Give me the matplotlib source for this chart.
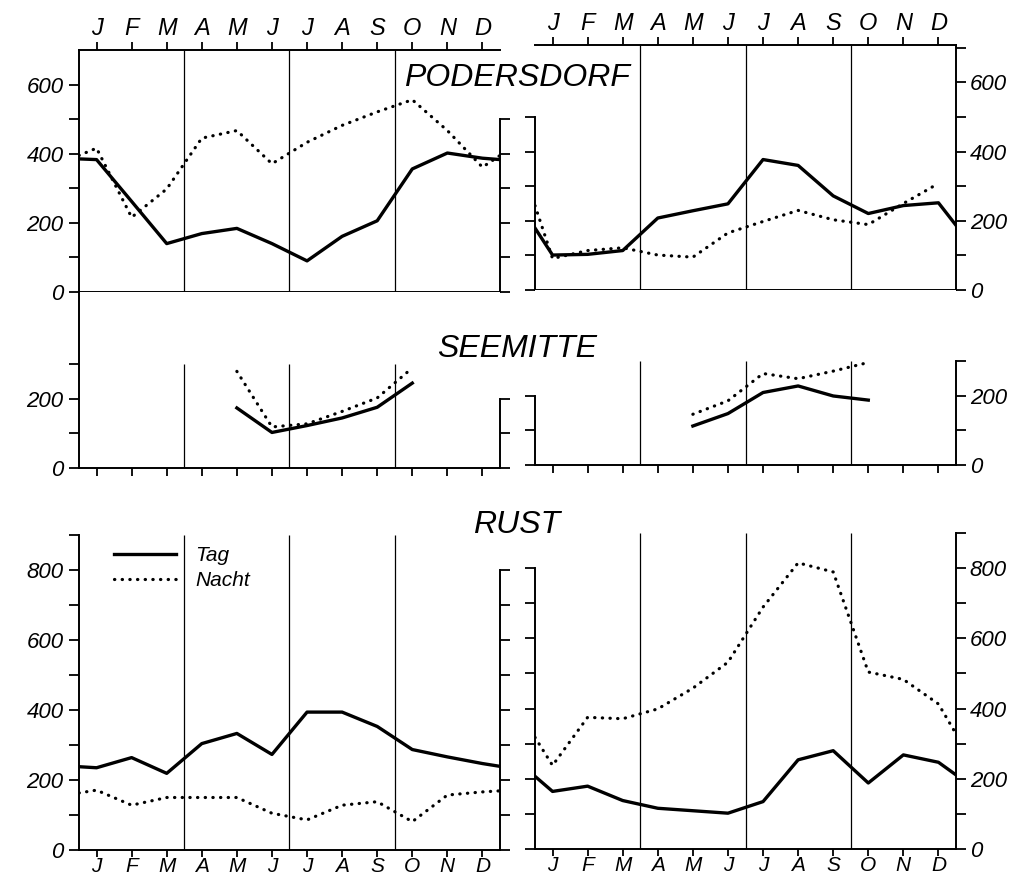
import numpy as np
import matplotlib.pyplot as plt

plt.rcParams['font.family'] = ['Liberation Sans', 'DejaVu Sans']
plt.rcParams['font.style'] = 'italic'

months = ['J', 'F', 'M', 'A', 'M', 'J', 'J', 'A', 'S', 'O', 'N', 'D']
# left border, Jan..Dec, right border
xpos = [0.5, 1, 2, 3, 4, 5, 6, 7, 8, 9, 10, 11, 12, 12.5]
nan = np.nan

# PODERSDORF
pod_tag_1 = [385, 383, 262, 140, 169, 184, 140, 90, 161, 206, 356, 402, 387, 383]
pod_nacht_1 = [395, 416, 216, 298, 445, 467, 371, 433, 482, 521, 556, 467, 361, 395]
pod_tag_2 = [179, 101, 103, 114, 208, 229, 249, 377, 360, 272, 221, 244, 252, 187]
pod_nacht_2 = [244, 91, 114, 122, 101, 95, 165, 198, 230, 203, 189, 250, 308, nan]

# SEEMITTE
see_tag_1 = [nan, nan, nan, nan, nan, 174, 103, 123, 145, 176, 246, nan, nan, nan]
see_nacht_1 = [nan, nan, nan, nan, nan, 280, 119, 128, 164, 203, 290, nan, nan, nan]
see_tag_2 = [nan, nan, nan, nan, nan, 113, 149, 210, 229, 200, 188, nan, nan, nan]
see_nacht_2 = [nan, nan, nan, nan, nan, 147, 186, 265, 250, 272, 297, nan, nan, nan]

# RUST
rust_tag_1 = [238, 235, 264, 219, 304, 333, 273, 394, 394, 353, 287, 266, 247, 239]
rust_nacht_1 = [163, 171, 128, 150, 150, 150, 105, 86, 128, 138, 81, 157, 166, 169]
rust_tag_2 = [207, 164, 179, 138, 116, 109, 102, 135, 254, 280, 188, 268, 247, 211]
rust_nacht_2 = [318, 238, 375, 371, 399, 458, 532, 689, 815, 789, 504, 483, 413, 328]

W, H = 1024, 884
fig = plt.figure(figsize=(W / 100, H / 100), dpi=100)
fig.patch.set_facecolor('white')

FS = 16


def rect(x0, x1, ytop, ybot):
    return [x0 / W, 1 - ybot / H, (x1 - x0) / W, (ybot - ytop) / H]


def panel(r, ymax, lb, rb, lticks, lshow, rticks, rshow, vtop, row):
    ax = fig.add_axes(r)
    ax.set_xlim(0.5, 12.5)
    ax.set_ylim(0, ymax)
    for s in ax.spines.values():
        s.set_linewidth(1.4)
    ax.spines['left'].set_bounds(0, lb)
    ax.spines['right'].set_visible(False)
    ax.spines['top'].set_visible(row == 'top')
    ax.set_xticks(range(1, 13), months)
    if row == 'bottom':
        ax.tick_params(axis='x', direction='out', length=5, width=1.3,
                       labelsize=FS - 1, pad=0)
    else:
        ax.tick_params(axis='x', direction='out', length=6, width=1.3,
                       top=(row == 'top'), labeltop=(row == 'top'),
                       labelbottom=False, labelsize=FS + 1, pad=1)
    ax.set_yticks(lticks, [str(t) if t in lshow else '' for t in lticks])
    ax.tick_params(axis='y', direction='out', length=7, width=1.3,
                   labelsize=FS, pad=4)
    tw = ax.twinx()
    tw.set_ylim(0, ymax)
    for k in ['left', 'top', 'bottom']:
        tw.spines[k].set_visible(False)
    tw.spines['right'].set_linewidth(1.4)
    tw.spines['right'].set_bounds(0, rb)
    tw.set_yticks(rticks, [str(t) if t in rshow else '' for t in rticks])
    tw.tick_params(axis='y', direction='out', length=7, width=1.3,
                   labelsize=FS, pad=3)
    ax.vlines([3.5, 6.5, 9.5], 0, vtop, color='k', lw=0.9)
    return ax


def draw(ax, tag, nacht):
    l1, = ax.plot(xpos, tag, color='k', lw=2.4, solid_joinstyle='round',
                  label='Tag')
    l2, = ax.plot(xpos, nacht, color='k', lw=2.3, linestyle=(0, (0.1, 2.3)),
                  dash_capstyle='round', label='Nacht')
    return l1, l2


# top row
a = panel(rect(79, 500, 50, 292), 700, 700, 500,
          [0, 100, 200, 300, 400, 500, 600], [0, 200, 400, 600],
          [0, 100, 200, 300, 400, 500], [], 700, 'top')
draw(a, pod_tag_1, pod_nacht_1)
a = panel(rect(535, 956, 45, 290), 708, 500, 708,
          [0, 100, 200, 300, 400, 500], [],
          [0, 100, 200, 300, 400, 500, 600, 700], [0, 200, 400, 600], 708, 'top')
draw(a, pod_tag_2, pod_nacht_2)

# middle row
a = panel(rect(79, 500, 292, 468), 510, 510, 200,
          [0, 100, 200, 300], [0, 200],
          [0, 100, 200], [], 300, 'mid')
draw(a, see_tag_1, see_nacht_1)
a = panel(rect(535, 956, 290, 465), 507, 200, 300,
          [0, 100, 200], [],
          [0, 100, 200, 300], [0, 200], 300, 'mid')
draw(a, see_tag_2, see_nacht_2)

# bottom row
a = panel(rect(79, 500, 535, 850), 900, 900, 800,
          list(range(0, 1000, 100)), [0, 200, 400, 600, 800],
          list(range(0, 900, 100)), [], 900, 'bottom')
h = draw(a, rust_tag_1, rust_nacht_1)
a.legend(handles=list(h), loc='upper left', bbox_to_anchor=(0.083, 0.965),
         frameon=False, fontsize=15, handlelength=3.0, handletextpad=0.9,
         labelspacing=0.3, borderpad=0, borderaxespad=0)
a = panel(rect(535, 956, 533, 849), 900, 800, 900,
          list(range(0, 900, 100)), [],
          list(range(0, 1000, 100)), [0, 200, 400, 600, 800], 900, 'bottom')
draw(a, rust_tag_2, rust_nacht_2)

fig.text(517 / W, 1 - 78 / H, 'PODERSDORF', ha='center', va='center', fontsize=23)
fig.text(517 / W, 1 - 349 / H, 'SEEMITTE', ha='center', va='center', fontsize=23)
fig.text(517 / W, 1 - 525 / H, 'RUST', ha='center', va='center', fontsize=23)

fig.savefig('out.png', dpi=100)
